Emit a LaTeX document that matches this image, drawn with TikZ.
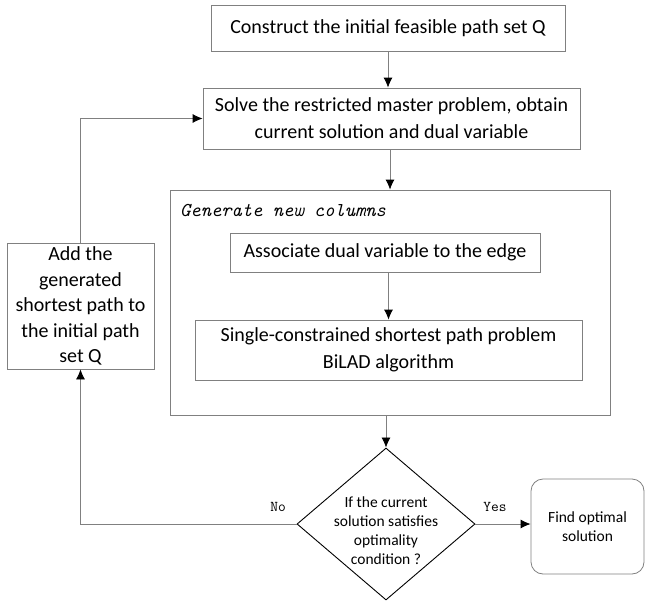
\documentclass[tikz,border=0pt]{standalone}
\usepackage{fontspec}
\setmainfont{Carlito}
\usetikzlibrary{shapes.geometric,arrows.meta}
\begin{document}
\begin{tikzpicture}[x=1pt,y=-1pt,
  box/.style={draw=black!50,line width=0.8pt,rectangle,inner sep=2pt,align=center,font=\fontsize{20}{25.5}\selectfont},
  conn/.style={draw=black!50,line width=0.8pt,-{Latex[length=10pt,width=9pt,black]}},
  lab/.style={font=\fontsize{15}{18}\selectfont\ttfamily}]
\useasboundingbox (0,0) rectangle (645,602);
\node[box,minimum width=354pt,minimum height=46pt] (b1) at (388,28) {Construct the initial feasible path set Q};
\node[box,minimum width=377pt,minimum height=61pt,font=\fontsize{20}{27}\selectfont] (b2) at (391.5,118.5) {Solve the restricted master problem, obtain\\current solution and dual variable};
\node[box,minimum width=440pt,minimum height=225pt] (big) at (390,302.5) {};
\node[anchor=west,font=\fontsize{19.6}{22}\selectfont\ttfamily\itshape,inner sep=0pt] (gnc) at (180,211) {Generate new columns};
\node[box,minimum width=310pt,minimum height=39pt] (i1) at (385,252.5) {Associate dual variable to the edge};
\node[box,minimum width=387pt,minimum height=60pt,font=\fontsize{20}{27}\selectfont] (i2) at (388.5,350) {Single-constrained shortest path problem\\BiLAD algorithm};
\node[box,minimum width=147pt,minimum height=126pt] (left) at (80.5,306) {Add the\\generated\\shortest path to\\the initial path\\set Q};
\node[draw=black,line width=0.9pt,diamond,inner sep=0pt,minimum width=178pt,minimum height=152pt] (dia) at (386,524) {};
\node[align=center,inner sep=0pt,font=\fontsize{15.5}{19}\selectfont] (diat) at (386,531) {If the current\\solution satisfies\\optimality\\condition ?};
\node[draw=black!50,line width=0.8pt,rounded corners=12pt,minimum width=113pt,minimum height=95pt,align=center,font=\fontsize{15.5}{19.5}\selectfont] (fin) at (587.5,526.5) {Find optimal\\solution};
\draw[conn] (b1.south) -- (b1.south |- b2.north);
\draw[conn] (b2.south -| big.north) -- (big.north);
\draw[conn] (i1.south -| i2.north) -- (i2.north);
\draw[conn] (big.south -| dia.north) -- (dia.north);
\draw[conn] (dia.east) -- (dia.east -| fin.west);
\draw[conn] (dia.west) -| (left.south);
\draw[conn] (left.north) |- (b2.west);
\node[lab] (no) at (278,507) {No};
\node[lab] (yes) at (495,507) {Yes};
\end{tikzpicture}
\end{document}
